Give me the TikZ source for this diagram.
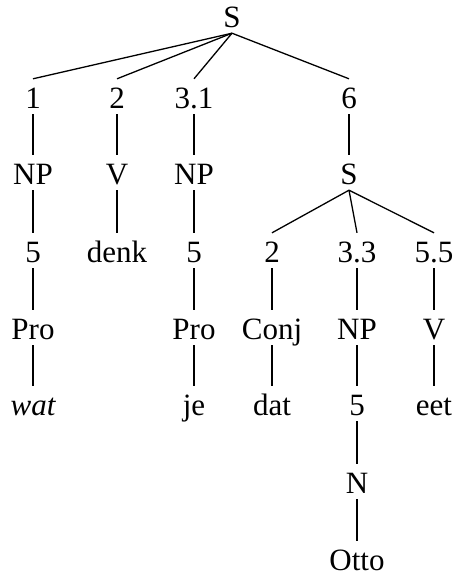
\documentclass[tikz,border=0pt]{standalone}
\usepackage{fontspec}
\setmainfont{Liberation Serif}
\begin{document}
\begin{tikzpicture}[x=1pt,y=-1pt,
  lab/.style={anchor=base,inner sep=0pt,text height=29pt,text depth=6pt,
    font=\fontsize{31}{37}\selectfont},
  edge/.style={line width=1.3pt}]
\useasboundingbox (0,0) rectangle (453,576);
% row 0
\node[lab] (s) at (232,27) {S};
% row 1
\node[lab] (n1) at (33,108) {1};
\node[lab] (n2) at (117,108) {2};
\node[lab] (n31) at (194,108) {3.1};
\node[lab] (n6) at (349,108) {6};
% row 2
\node[lab] (np1) at (33,184) {NP};
\node[lab] (v1) at (117,184) {V};
\node[lab] (np2) at (194,184) {NP};
\node[lab] (s2) at (349,184) {S};
% row 3
\node[lab] (f1) at (33,262) {5};
\node[lab] (denk) at (117,262) {denk};
\node[lab] (f2) at (194,262) {5};
\node[lab] (t2) at (272,262) {2};
\node[lab] (n33) at (357,262) {3.3};
\node[lab] (n55) at (434,262) {5.5};
% row 4
\node[lab] (pro1) at (33,339) {Pro};
\node[lab] (pro2) at (194,339) {Pro};
\node[lab] (conj) at (272,339) {Conj};
\node[lab] (np3) at (357,339) {NP};
\node[lab] (v2) at (434,339) {V};
% row 5
\node[lab] (wat) at (33,415) {\itshape wat};
\node[lab] (je) at (194,415) {je};
\node[lab] (dat) at (272,415) {dat};
\node[lab] (f3) at (357,415) {5};
\node[lab] (eet) at (434,415) {eet};
% row 6, 7
\node[lab] (nn) at (357,493) {N};
\node[lab] (otto) at (357,570) {Otto};
% edges
\foreach \c in {n1,n2,n31,n6} \draw[edge] (s.south) -- (\c.north);
\draw[edge] (n1.south) -- (np1.north);
\draw[edge] (n2.south) -- (v1.north);
\draw[edge] (n31.south) -- (np2.north);
\draw[edge] (n6.south) -- (s2.north);
\draw[edge] (np1.south) -- (f1.north);
\draw[edge] (v1.south) -- (denk.north);
\draw[edge] (np2.south) -- (f2.north);
\foreach \c in {t2,n33,n55} \draw[edge] (s2.south) -- (\c.north);
\draw[edge] (f1.south) -- (pro1.north);
\draw[edge] (f2.south) -- (pro2.north);
\draw[edge] (t2.south) -- (conj.north);
\draw[edge] (n33.south) -- (np3.north);
\draw[edge] (n55.south) -- (v2.north);
\draw[edge] (pro1.south) -- (wat.north);
\draw[edge] (pro2.south) -- (je.north);
\draw[edge] (conj.south) -- (dat.north);
\draw[edge] (np3.south) -- (f3.north);
\draw[edge] (v2.south) -- (eet.north);
\draw[edge] (f3.south) -- (nn.north);
\draw[edge] (nn.south) -- (otto.north);
\end{tikzpicture}
\end{document}
